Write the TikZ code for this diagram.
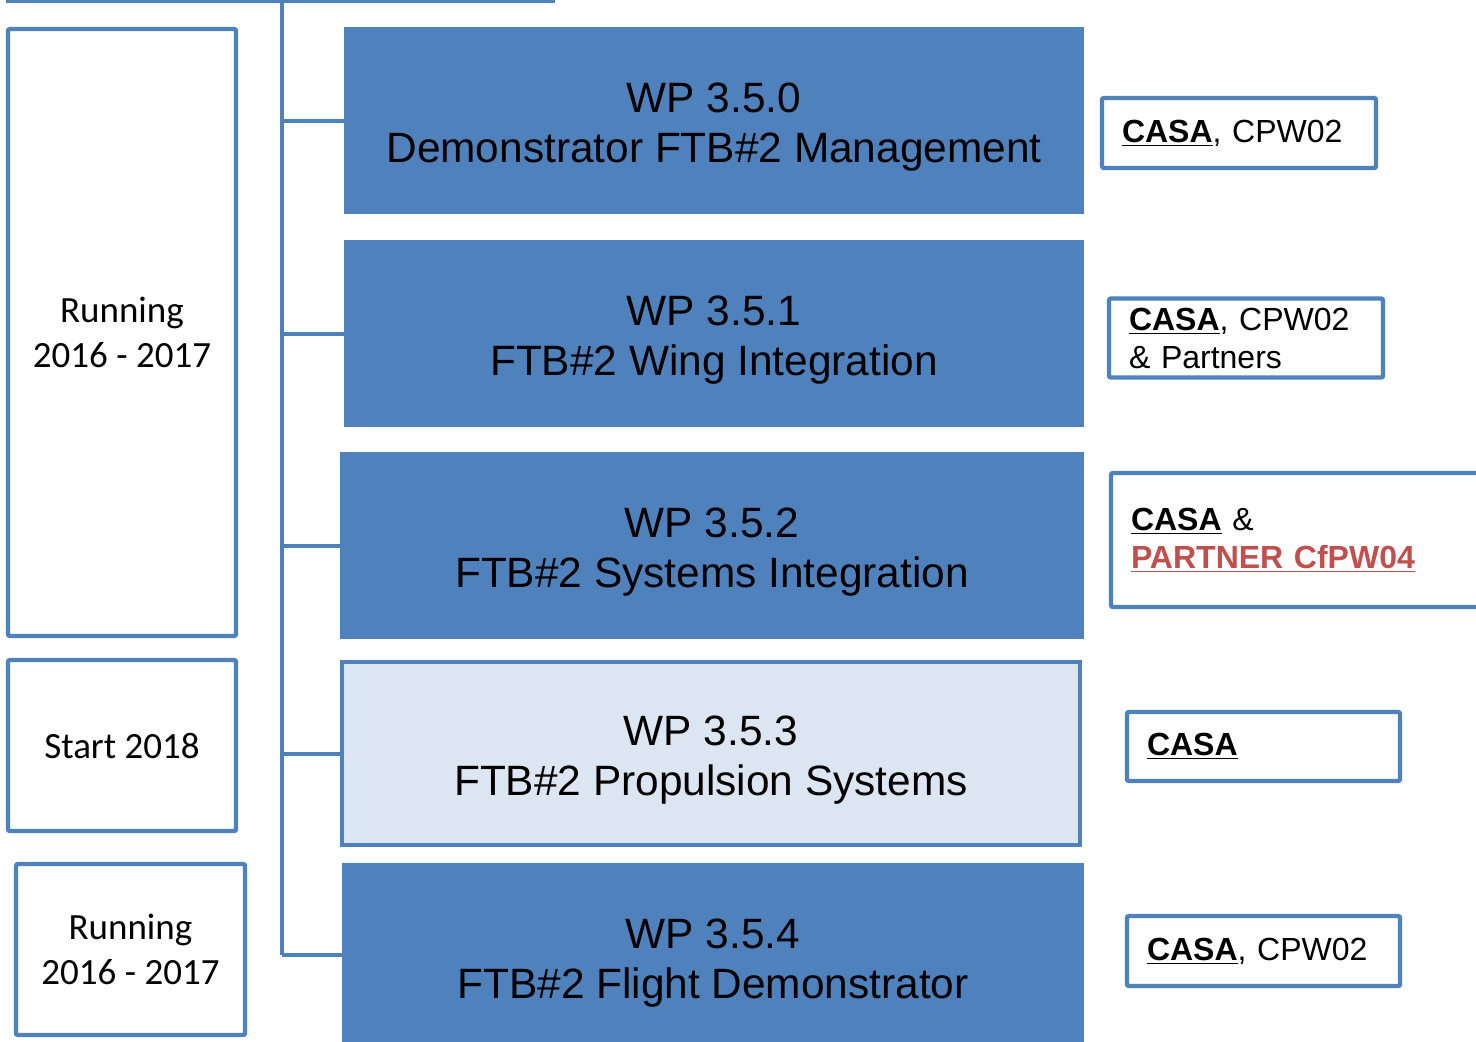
\documentclass[tikz,border=0pt]{standalone}
\usepackage{fontspec}
\setmainfont{Liberation Sans}
\newfontfamily\calibrifont{Carlito}
\usetikzlibrary{positioning}

\definecolor{wpblue}{HTML}{4F81BD}
\definecolor{wplight}{HTML}{DCE6F2}
\definecolor{partred}{HTML}{C0504D}

\newcommand{\wpstrut}{\rule{0pt}{21pt}}

\begin{document}
\begin{tikzpicture}[x=0.5pt, y=-0.5pt,
    wp/.style={rectangle, draw=wpblue, fill=wpblue, line width=1pt, minimum width=369pt, minimum height=92.5pt, align=center, font=\fontsize{21.2}{25}\selectfont},
    wpnew/.style={wp, fill=wplight, line width=2.2pt},
    period/.style={rectangle, draw=wpblue, line width=2.2pt, rounded corners=1pt, align=center, minimum width=114pt, font=\calibrifont\fontsize{18.5}{22.5}\selectfont},
    partner/.style={rectangle, draw=wpblue, line width=2.2pt, rounded corners=1pt, align=left, inner xsep=10pt, font=\fontsize{16}{19}\selectfont},
    branch/.style={wpblue, line width=2pt}
]
    \useasboundingbox (0,0) rectangle (1476,1041);
    \clip (0,0) rectangle (1476,1041);

    % work packages
    \node[wp] (wp0) at (714, 120.5) {\wpstrut WP 3.5.0\\Demonstrator FTB\#2 Management};
    \node[wp] (wp1) at (714, 333.5) {\wpstrut WP 3.5.1\\FTB\#2 Wing Integration};
    \node[wp, minimum width=371pt] (wp2) at (712, 545.5) {\wpstrut WP 3.5.2\\FTB\#2 Systems Integration};
    \node[wpnew, minimum width=369pt, minimum height=91.5pt] (wp3) at (711, 753.5) {\wpstrut WP 3.5.3\\FTB\#2 Propulsion Systems};
    \node[wp, minimum width=370pt, minimum height=93pt] (wp4) at (713, 957) {\wpstrut WP 3.5.4\\FTB\#2 Flight Demonstrator};

    % tree
    \coordinate (left) at (6, 1);
    \coordinate (right) at (555, 1);
    \coordinate (top) at (282, 1);
    \coordinate (bottom) at (282, 955);
    \draw[branch] (left) -- (right);
    \draw[branch] (top) -- (bottom);
    \draw[branch] (top |- wp0.west) -- (wp0.west);
    \draw[branch] (top |- wp1.west) -- (wp1.west);
    \draw[branch] (top |- wp2.west) -- (wp2.west);
    \draw[branch] (top |- wp3.west) -- (wp3.west);
    \draw[branch] (bottom) -- (bottom -| wp4.west);

    % time frame
    \node[period, minimum height=303.5pt] (run1) at (122, 332.5) {Running\\2016 - 2017};
    \node[period, minimum height=85.5pt] (start) at (122, 745.5) {Start 2018};
    \node[period, minimum width=114.5pt, minimum height=85.5pt] (run2) at (130.5, 949.5) {Running\\2016 - 2017};

    % partners
    \node[partner, text width=117pt, minimum height=35pt] (p0) at (1239, 133)
        {\underline{\textbf{CASA}}, CPW02};
    \node[partner, text width=117pt, minimum height=39.5pt] (p1) at (1246, 338)
        {\underline{\textbf{CASA}}, CPW02\\\& Partners};
    \node[partner, text width=179.5pt, minimum height=67pt] (p2) at (1310.5, 540)
        {\underline{\textbf{CASA}} \&\\\textcolor{partred}{\underline{\textbf{PARTNER CfPW04}}}};
    \node[partner, text width=116.5pt, minimum height=34.5pt] (p3) at (1263.5, 746.5)
        {\underline{\textbf{CASA}}};
    \node[partner, text width=116.5pt, minimum height=35pt] (p4) at (1263.5, 951)
        {\underline{\textbf{CASA}}, CPW02};
\end{tikzpicture}
\end{document}
